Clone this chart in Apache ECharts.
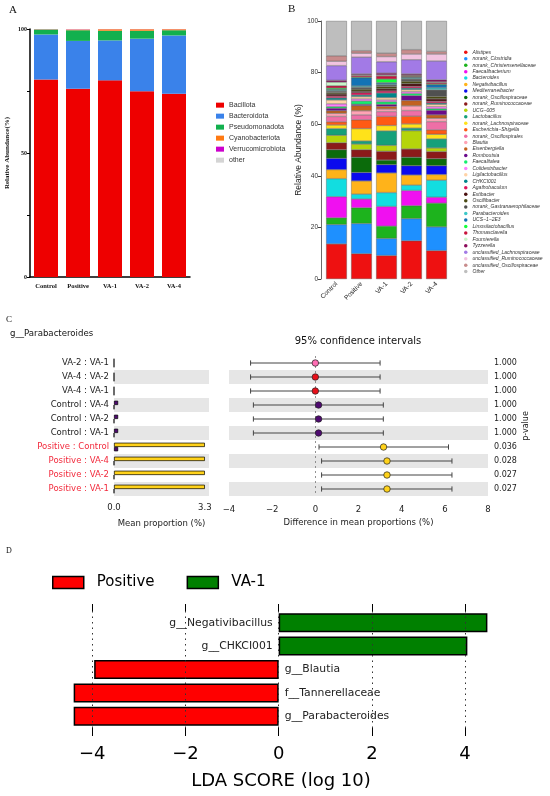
<!DOCTYPE html>
<html><head><meta charset="utf-8">
<script src="https://cdn.jsdelivr.net/npm/echarts@6/dist/echarts.min.js"></script>
<style>html,body{margin:0;padding:0;background:#fff}#c{width:550px;height:796px}</style>
</head><body><div id="c"></div>
<script>
// ---------- Panel A: phylum level ----------
const groups = ['Control', 'Positive', 'VA-1', 'VA-2', 'VA-4'];
const phylumNames = ['Bacillota', 'Bacteroidota', 'Pseudomonadota', 'Cyanobacteriota', 'Verrucomicrobiota', 'other'];
const bacillota = [79.6, 75.9, 79.3, 74.9, 73.9];
const bacteroidota = [18.2, 19.3, 16.1, 21.2, 23.5];
const pseudomonadota = [2.0, 4.3, 3.9, 3.2, 2.1];
const cyanobacteriota = [0.1, 0.3, 0.6, 0.6, 0.4];
const verrucomicrobiota = [0.05, 0.1, 0.05, 0.05, 0.05];
const otherPhylum = [0.05, 0.1, 0.05, 0.05, 0.05];
const aLabelTicks = [0, 50, 100];

// ---------- Panel B: genus level ----------
const genusNames = ['Alistipes', 'norank_Clostridia', 'norank_Christensenellaceae', 'Faecalibacterium', 'Bacteroides',
  'Negativibacillus', 'Mediterraneibacter', 'norank_Oscillospiraceae', 'norank_Ruminococcaceae', 'UCG\u2212005',
  'Lactobacillus', 'norank_Lachnospiraceae', 'Escherichia\u2212Shigella', 'norank_Oscillospirales', 'Blautia',
  'Eisenbergiella', 'Romboutsia', 'Faecalitalea', 'Colidextribacter', 'Ligilactobacillus',
  'CHKCI001', 'Agathobaculum', 'Extibacter', 'Oscillibacter', 'norank_Gastranaerophilaceae',
  'Parabacteroides', 'UCS\u22121\u22122E3', 'Limosilactobacillus', 'Thomasclavelia', 'Fournierella',
  'Tyzzerella', 'unclassified_Lachnospiraceae', 'unclassified_Ruminococcaceae', 'unclassified_Oscillospiraceae', 'Other'];
const genusControl = [13.6, 7.5, 2.6, 8.2, 7.0, 3.5, 4.4, 3.3, 2.7, 2.9, 2.6, 1.4, 1.2, 2.1, 1.2, 1.0, 1.0, 0.6, 1.1, 1.5,
  0.8, 0.7, 0.8, 0.6, 0.5, 0.4, 0.3, 0.5, 0.9, 1.4, 0.7, 5.7, 1.7, 2.1, 13.5];
const genusPositive = [9.8, 11.7, 6.1, 3.4, 1.9, 5.1, 3.3, 5.9, 2.9, 2.2, 1.2, 4.8, 3.4, 1.9, 1.6, 2.0, 0.5, 1.3, 0.8, 0.9,
  0.6, 0.9, 0.6, 0.8, 0.7, 0.5, 3.2, 0.3, 0.6, 0.3, 0.3, 6.5, 1.5, 1.0, 11.5];
const genusVA1 = [9.1, 6.6, 4.8, 7.6, 5.4, 7.6, 3.2, 1.8, 3.4, 2.3, 5.6, 2.1, 3.5, 1.9, 1.0, 1.0, 0.8, 1.0, 0.7, 0.9,
  1.8, 0.8, 0.8, 0.9, 0.6, 0.4, 0.5, 1.4, 1.2, 0.4, 0.7, 4.4, 2.0, 1.3, 12.5];
const genusVA2 = [14.8, 8.6, 5.0, 5.9, 2.1, 3.9, 3.6, 3.3, 3.2, 7.1, 1.0, 1.6, 3.0, 2.2, 1.8, 2.1, 1.9, 0.8, 0.7, 0.8,
  0.6, 0.7, 1.0, 1.0, 0.8, 0.4, 0.3, 0.3, 0.4, 0.2, 0.4, 5.5, 2.2, 1.7, 11.1];
const genusVA4 = [11.0, 9.2, 9.2, 2.3, 6.6, 2.2, 3.4, 2.7, 2.8, 1.4, 3.5, 1.8, 1.7, 3.2, 1.3, 1.3, 1.8, 0.6, 0.8, 0.9,
  0.5, 0.7, 0.9, 1.0, 2.5, 0.8, 1.2, 0.3, 0.5, 0.3, 0.8, 7.3, 2.7, 1.0, 11.8];

// ---------- Panel C: STAMP post-hoc (g__Parabacteroides) ----------
const comparisons = ['VA-2 : VA-1', 'VA-4 : VA-2', 'VA-4 : VA-1', 'Control : VA-4', 'Control : VA-2', 'Control : VA-1',
  'Positive : Control', 'Positive : VA-4', 'Positive : VA-2', 'Positive : VA-1'];
const meanFirst = [0, 0, 0, 0.15, 0.15, 0.15, 3.3, 3.3, 3.3, 3.3];
const meanSecond = [0, 0, 0, 0, 0, 0, 0.15, 0, 0, 0];
const meanDiff = [0, 0, 0, 0.15, 0.15, 0.15, 3.16, 3.32, 3.32, 3.32];
const ciLow = [-3.0, -3.0, -3.0, -2.87, -2.87, -2.87, 0.17, 0.29, 0.29, 0.29];
const ciHigh = [3.0, 3.0, 3.0, 3.15, 3.15, 3.15, 6.17, 6.33, 6.33, 6.33];
const pValues = ['1.000', '1.000', '1.000', '1.000', '1.000', '1.000', '0.036', '0.028', '0.027', '0.027'];
const meanTicks = [0, 3.3];

// ---------- Panel D: LEfSe ----------
const ldaFeatures = ['g__Negativibacillus', 'g__CHKCI001', 'g__Blautia', 'f__Tannerellaceae', 'g__Parabacteroides'];
const ldaScores = [4.48, 4.05, -3.96, -4.40, -4.40];
const ldaGroup = ['VA-1', 'VA-1', 'Positive', 'Positive', 'Positive'];
const ldaTicks = [-4, -2, 0, 2, 4];

// ---------- styles ----------
const serif = 'Liberation Serif', sans = 'Liberation Sans', dv = 'DejaVu Sans';
const phylumColors = ['#EE0000', '#3A82EA', '#12B04E', '#FF7A12', '#CC00CC', '#D4D4D4'];
const genusColors = ['#EE1111', '#1E90FF', '#1DB31D', '#F010F0', '#12DDE0', '#FFB31A', '#0A0AEE', '#0B6B0B', '#8B1A1A', '#B5D40B',
  '#16A07A', '#FFE21A', '#FF5A14', '#EE6FA6', '#FFA3B5', '#C2621E', '#6B0B8B', '#14F06E', '#FF80FF', '#FFD2A6',
  '#00868B', '#E0145A', '#4A0F0F', '#4A4A14', '#505050', '#3CC8C8', '#1273B5', '#14FF3C', '#C8143C', '#C8F5C8',
  '#8B0B5A', '#A27AE6', '#F2C4E0', '#C88C8C', '#BEBEBE'];
const groupColor = { 'Control': '#4E0A70', 'Positive': '#FFD21A', 'VA-1': '#3050D0', 'VA-2': '#FF6EB4', 'VA-4': '#E8101A' };
const ldaColor = { 'Positive': '#FF0000', 'VA-1': '#008000' };
const minus = v => (v < 0 ? '\u2212' + (-v) : String(v));

const phylumData = [bacillota, bacteroidota, pseudomonadota, cyanobacteriota, verrucomicrobiota, otherPhylum];
const genusByGroup = [genusControl, genusPositive, genusVA1, genusVA2, genusVA4];

const series = [];
phylumNames.forEach((n, i) => series.push({
  type: 'bar', name: n, xAxisIndex: 0, yAxisIndex: 0, stack: 'A', barWidth: 24,
  itemStyle: { color: phylumColors[i] }, data: phylumData[i]
}));
genusNames.forEach((n, i) => series.push({
  type: 'bar', name: n, xAxisIndex: 1, yAxisIndex: 1, stack: 'B', barWidth: 20.7,
  itemStyle: { color: genusColors[i], borderColor: '#555', borderWidth: 0.4 },
  data: genusByGroup.map(g => g[i])
}));
const firstGroup = comparisons.map(c => c.split(' : ')[0]);
const secondGroup = comparisons.map(c => c.split(' : ')[1]);
series.push({
  type: 'bar', name: 'cFirst', xAxisIndex: 2, yAxisIndex: 2, barWidth: 4.3, barGap: '0%',
  itemStyle: { borderColor: '#000', borderWidth: 0.7 },
  data: meanFirst.map((v, i) => ({ value: v, itemStyle: { color: groupColor[firstGroup[i]] } }))
});
series.push({
  type: 'bar', name: 'cSecond', xAxisIndex: 2, yAxisIndex: 2, barWidth: 4.3, barGap: '0%',
  itemStyle: { borderColor: '#000', borderWidth: 0.7 },
  data: meanSecond.map((v, i) => ({ value: v, itemStyle: { color: groupColor[secondGroup[i]] } }))
});
series.push({
  type: 'custom', name: 'cCI', xAxisIndex: 3, yAxisIndex: 3,
  encode: { x: [1, 2], y: 0 },
  data: comparisons.map((c, i) => [i, ciLow[i], ciHigh[i]]),
  renderItem: (params, api) => {
    const lo = api.coord([api.value(1), api.value(0)]);
    const hi = api.coord([api.value(2), api.value(0)]);
    const h = 2.6, st = { stroke: '#444', lineWidth: 1 };
    return { type: 'group', children: [
      { type: 'line', shape: { x1: lo[0], y1: lo[1], x2: hi[0], y2: hi[1] }, style: st },
      { type: 'line', shape: { x1: lo[0], y1: lo[1] - h, x2: lo[0], y2: lo[1] + h }, style: st },
      { type: 'line', shape: { x1: hi[0], y1: hi[1] - h, x2: hi[0], y2: hi[1] + h }, style: st }
    ] };
  },
  markLine: { silent: true, symbol: ['none', 'none'], label: { show: false },
    lineStyle: { type: [2, 3], color: '#777', width: 0.8 }, data: [{ xAxis: 0 }] }
});
series.push({
  type: 'scatter', name: 'cDiff', xAxisIndex: 3, yAxisIndex: 3, symbolSize: 6.5, z: 5,
  itemStyle: { borderColor: '#222', borderWidth: 0.7, opacity: 1 },
  data: meanDiff.map((d, i) => ({ value: [d, i], itemStyle: { color: groupColor[firstGroup[i]] } }))
});
['VA-1', 'Positive'].forEach((g, k) => series.push({
  type: 'bar', name: g, xAxisIndex: 4, yAxisIndex: 4, stack: 'D', barWidth: 19,
  itemStyle: { color: ldaColor[g], borderColor: '#000', borderWidth: 1.5 },
  label: { show: true, formatter: p => p.name, fontSize: 10.8, fontFamily: dv, color: '#222', distance: 6 },
  data: ldaScores.map((v, i) => ldaGroup[i] === g ? { value: v, label: { position: v > 0 ? 'left' : 'right' } } : '-'),
  markLine: k === 0 ? { silent: true, symbol: ['none', 'none'], label: { show: false },
    lineStyle: { type: [1.5, 4], color: '#333', width: 1 }, data: ldaTicks.map(t => ({ xAxis: t })) } : undefined
}));

const txt = (text, x, y, font, extra) => ({
  type: 'text', x, y, silent: true,
  style: Object.assign({ text, font, fill: '#111', textAlign: 'left', textVerticalAlign: 'middle', align: 'left', verticalAlign: 'middle' }, extra || {})
});

const option = {
  animation: false,
  backgroundColor: '#fff',
  grid: [
    { left: 30, top: 29, width: 160, height: 248 },
    { left: 324, top: 21, width: 125, height: 258 },
    { left: 114, top: 356, width: 95, height: 140 },
    { left: 229, top: 356, width: 259, height: 140 },
    { left: 69, top: 611, width: 424, height: 117 }
  ],
  xAxis: [
    { type: 'category', gridIndex: 0, data: groups,
      axisLine: { lineStyle: { color: '#000', width: 1.5 } }, axisTick: { show: false },
      axisLabel: { fontFamily: serif, fontWeight: 'bold', fontSize: 6.5, color: '#111', margin: 6 } },
    { type: 'category', gridIndex: 1, data: groups,
      axisLine: { show: false }, axisTick: { show: false },
      axisLabel: { rotate: 45, fontFamily: sans, fontSize: 6.5, color: '#222', margin: 4 } },
    { type: 'value', gridIndex: 2, min: 0, max: 3.45, offset: 3,
      axisLine: { lineStyle: { color: '#555', width: 0.8 } },
      axisTick: { length: 3, customValues: meanTicks, lineStyle: { color: '#555' } },
      axisLabel: { customValues: meanTicks, formatter: v => v.toFixed(1), fontFamily: dv, fontSize: 8.5, color: '#222', margin: 4 },
      splitLine: { show: false },
      name: 'Mean proportion (%)', nameLocation: 'middle', nameGap: 20,
      nameTextStyle: { fontFamily: dv, fontSize: 8.5, color: '#222' } },
    { type: 'value', gridIndex: 3, min: -4, max: 8, interval: 2, offset: 5,
      axisLine: { lineStyle: { color: '#555', width: 0.8 } },
      axisTick: { length: 3, lineStyle: { color: '#555' } },
      axisLabel: { formatter: minus, fontFamily: dv, fontSize: 8.5, color: '#222', margin: 4 },
      splitLine: { show: false },
      name: 'Difference in mean proportions (%)', nameLocation: 'middle', nameGap: 17,
      nameTextStyle: { fontFamily: dv, fontSize: 8.5, color: '#222' } },
    { type: 'value', gridIndex: 4, min: -4.5, max: 4.6,
      axisLine: { show: false },
      axisTick: { show: true, length: 8, customValues: ldaTicks, lineStyle: { color: '#000', width: 1 } },
      axisLabel: { customValues: ldaTicks, formatter: minus, fontFamily: dv, fontSize: 18, color: '#000', margin: 17 },
      splitLine: { show: false },
      name: 'LDA SCORE (log 10)', nameLocation: 'middle', nameGap: 44,
      nameTextStyle: { fontFamily: dv, fontSize: 18, color: '#000' } },
    { type: 'value', gridIndex: 4, position: 'top', min: -4.5, max: 4.6,
      axisLine: { show: false },
      axisTick: { show: true, length: 7, customValues: ldaTicks, lineStyle: { color: '#000', width: 1 } },
      axisLabel: { show: false }, splitLine: { show: false } }
  ],
  yAxis: [
    { type: 'value', gridIndex: 0, min: 0, max: 100, interval: 25,
      axisLine: { show: true, lineStyle: { color: '#000', width: 1.5 } },
      axisTick: { show: true, length: 3, lineStyle: { color: '#000', width: 1 } },
      axisLabel: { formatter: v => (aLabelTicks.includes(v) ? String(v) : ''), fontFamily: serif, fontWeight: 'bold', fontSize: 6, color: '#111', margin: 3 },
      splitLine: { show: false },
      name: 'Relative Abundance(%)', nameLocation: 'middle', nameRotate: 90, nameGap: 19,
      nameTextStyle: { fontFamily: serif, fontWeight: 'bold', fontSize: 7, color: '#111' } },
    { type: 'value', gridIndex: 1, min: 0, max: 100, interval: 20, offset: 3,
      axisLine: { show: true, lineStyle: { color: '#444', width: 0.8 } },
      axisTick: { show: true, length: 3, lineStyle: { color: '#444' } },
      axisLabel: { fontFamily: sans, fontSize: 6.5, color: '#333', margin: 3 },
      splitLine: { show: false },
      name: 'Relative Abundance (%)', nameLocation: 'middle', nameRotate: 90, nameGap: 15,
      nameTextStyle: { fontFamily: sans, fontSize: 8.5, color: '#222' } },
    { type: 'category', gridIndex: 2, inverse: true,
      data: comparisons.map(c => ({ value: c, textStyle: { color: c.startsWith('Positive') ? '#F22A3C' : '#222' } })),
      axisLine: { show: false }, axisTick: { show: false },
      axisLabel: { fontFamily: dv, fontSize: 8.5, margin: 5 },
      splitArea: { show: true, areaStyle: { color: ['rgba(255,255,255,0)', '#e6e6e6'] } } },
    { type: 'category', gridIndex: 3, inverse: true, position: 'right', data: comparisons,
      axisLine: { show: false }, axisTick: { show: false },
      axisLabel: { formatter: (v, i) => pValues[i], fontFamily: dv, fontSize: 8, color: '#222', margin: 6 },
      splitArea: { show: true, areaStyle: { color: ['rgba(255,255,255,0)', '#e6e6e6'] } },
      name: 'p-value', nameLocation: 'middle', nameRotate: 90, nameGap: 34,
      nameTextStyle: { fontFamily: dv, fontSize: 8, color: '#222' } },
    { type: 'category', gridIndex: 4, inverse: true, data: ldaFeatures, show: false }
  ],
  legend: [
    { data: phylumNames, left: 216, top: 101, orient: 'vertical', padding: 0, selectedMode: false,
      icon: 'rect', itemWidth: 8, itemHeight: 5, itemGap: 2.7,
      textStyle: { fontFamily: sans, fontSize: 7, color: '#333', lineHeight: 8.3 } },
    { data: genusNames, left: 464, top: 49.8, orient: 'vertical', padding: 0, selectedMode: false,
      icon: 'circle', itemWidth: 3.5, itemHeight: 3.5, itemGap: 1.45,
      itemStyle: { borderWidth: 0 },
      textStyle: { fontFamily: sans, fontSize: 5, fontStyle: 'italic', color: '#333', lineHeight: 5 } },
    { data: ['Positive', 'VA-1'], left: 52, top: 575, orient: 'horizontal', padding: 0, selectedMode: false,
      icon: 'rect', itemWidth: 31, itemHeight: 12, itemGap: 32,
      itemStyle: { borderColor: '#000', borderWidth: 1.5 },
      textStyle: { fontFamily: dv, fontSize: 15, color: '#000', padding: [0, 0, 0, 8] } }
  ],
  graphic: [
    txt('A', 9, 10, '11px "Liberation Serif"'),
    txt('B', 288, 9, '11px "Liberation Serif"'),
    txt('C', 6, 320, '9px "Liberation Serif"'),
    txt('D', 6, 551, '8px "Liberation Serif"'),
    txt('g__Parabacteroides', 10, 334, '8.6px "DejaVu Sans"'),
    txt('95% confidence intervals', 358, 341, '10px "DejaVu Sans"', { textAlign: 'center', align: 'center' })
  ],
  series
};
const chart = echarts.init(document.getElementById('c'));
chart.setOption(option);
</script></body></html>
